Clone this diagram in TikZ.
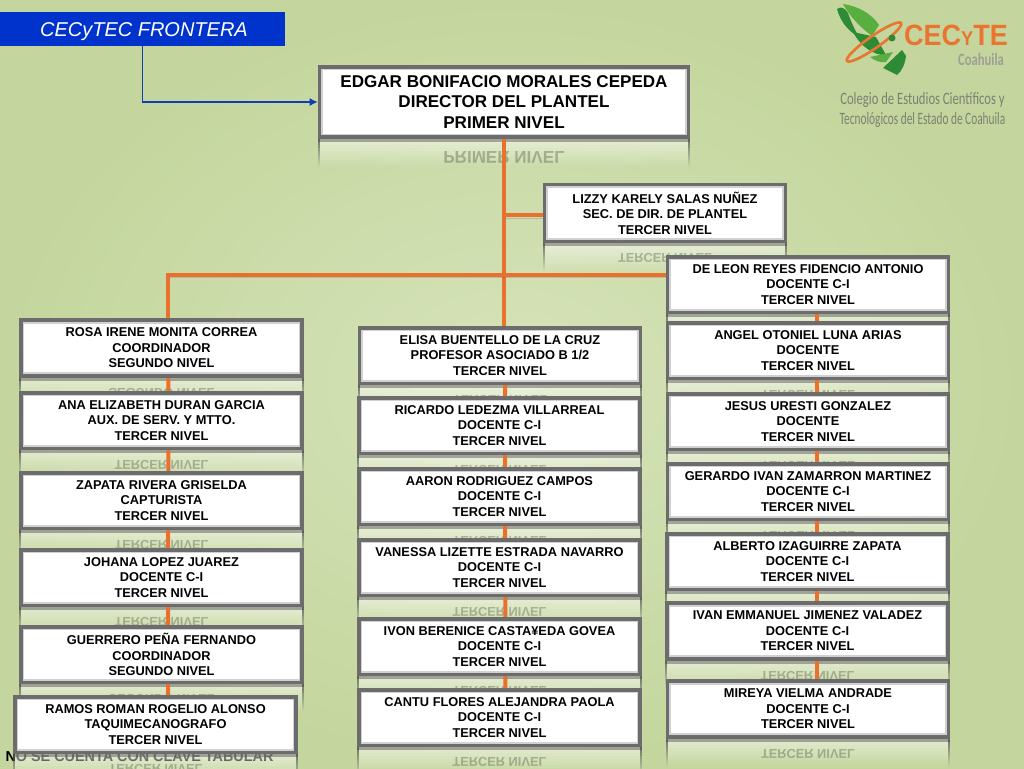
\documentclass[tikz,border=0pt]{standalone}
\usepackage{fontspec}
\setmainfont{Liberation Sans}
\newfontfamily\logofont[FakeStretch=0.73]{Carlito}
\newfontfamily\logotight[FakeStretch=0.655]{Carlito}
\newfontfamily\logobold[FakeStretch=0.92]{Liberation Sans}
\usetikzlibrary{positioning, calc, backgrounds, arrows.meta}
\definecolor{bgout}{HTML}{C4D69D}
\definecolor{bgin}{HTML}{D6E3BA}
\definecolor{linkorange}{HTML}{E9702D}
\definecolor{boxedge}{HTML}{6C6C6C}
\definecolor{titleblue}{HTML}{0033CC}
\definecolor{arrowblue}{HTML}{0F3FB8}
\definecolor{logoorange}{HTML}{EA7530}
\definecolor{logogray}{HTML}{7C8072}
\definecolor{leafdark}{HTML}{2E8B35}
\definecolor{leaflight}{HTML}{58AE3E}

\begin{document}
\begin{tikzpicture}[x=0.75pt, y=-0.75pt]
    \tikzstyle{box} = [draw=boxedge, line width=2.7pt, fill=white, minimum width=210.7pt, minimum height=41.7pt, inner sep=0pt, align=center, font=\fontsize{9.6}{11.6}\selectfont\bfseries,
        path picture={\draw[line width=5pt, black!18] (path picture bounding box.south west) rectangle (path picture bounding box.north east);}]
    \tikzstyle{bigbox} = [box, minimum width=276.7pt, minimum height=52.7pt, font=\fontsize{12.8}{15.4}\selectfont\bfseries]
    \tikzstyle{link} = [line width=3pt, draw=linkorange, preaction={draw=black!60, opacity=.25, transform canvas={yshift=-2pt}}]
    \tikzstyle{mirrorlabel} = [yscale=-1, transform shape, text opacity=.24, inner sep=0pt, font=\fontsize{9.6}{11.6}\selectfont\bfseries]

    \path[use as bounding box] (0,0) rectangle (1024,768);

    \node[box, minimum width=180.7pt, minimum height=42.7pt] (lizzy) at (665,213) {LIZZY KARELY SALAS NUÑEZ\\SEC. DE DIR. DE PLANTEL\\TERCER NIVEL};
    \node[bigbox] (director) at (504,102) {EDGAR BONIFACIO MORALES CEPEDA\\DIRECTOR DEL PLANTEL\\PRIMER NIVEL};

    \node[box] (rosa) at (161.5,348) {ROSA IRENE MONITA CORREA\\COORDINADOR\\SEGUNDO NIVEL};
    \node[box] (ana) at (161.5,420.5) {ANA ELIZABETH DURAN GARCIA\\AUX. DE SERV. Y MTTO.\\TERCER NIVEL};
    \node[box] (zapata) at (161.5,500.5) {ZAPATA RIVERA GRISELDA\\CAPTURISTA\\TERCER NIVEL};
    \node[box] (johana) at (161.5,577.5) {JOHANA LOPEZ JUAREZ\\DOCENTE C-I\\TERCER NIVEL};
    \node[box] (guerrero) at (161.5,654.5) {GUERRERO PEÑA FERNANDO\\COORDINADOR\\SEGUNDO NIVEL};
    \node[box] (ramos) at (155.5,724.5) {RAMOS ROMAN ROGELIO ALONSO\\TAQUIMECANOGRAFO\\TERCER NIVEL};

    \node[box] (elisa) at (500,355.5) {ELISA BUENTELLO DE LA CRUZ\\PROFESOR ASOCIADO B 1/2\\TERCER NIVEL};
    \node[box] (ricardo) at (499.5,425.5) {RICARDO LEDEZMA VILLARREAL\\DOCENTE C-I\\TERCER NIVEL};
    \node[box] (aaron) at (499.5,496.5) {AARON RODRIGUEZ CAMPOS\\DOCENTE C-I\\TERCER NIVEL};
    \node[box] (vanessa) at (499.5,567.5) {VANESSA LIZETTE ESTRADA NAVARRO\\DOCENTE C-I\\TERCER NIVEL};
    \node[box] (ivon) at (499.5,646.5) {IVON BERENICE CASTA¥EDA GOVEA\\DOCENTE C-I\\TERCER NIVEL};
    \node[box] (cantu) at (499.5,717.5) {CANTU FLORES ALEJANDRA PAOLA\\DOCENTE C-I\\TERCER NIVEL};

    \node[box] (deleon) at (808,284.5) {DE LEON REYES FIDENCIO ANTONIO\\DOCENTE C-I\\TERCER NIVEL};
    \node[box] (angel) at (808,350.5) {ANGEL OTONIEL LUNA ARIAS\\DOCENTE\\TERCER NIVEL};
    \node[box] (jesus) at (808,421.5) {JESUS URESTI GONZALEZ\\DOCENTE\\TERCER NIVEL};
    \node[box] (gerardo) at (808,491.5) {GERARDO IVAN ZAMARRON MARTINEZ\\DOCENTE C-I\\TERCER NIVEL};
    \node[box] (alberto) at (807.5,561.5) {ALBERTO IZAGUIRRE ZAPATA\\DOCENTE C-I\\TERCER NIVEL};
    \node[box] (ivan) at (807.5,631) {IVAN EMMANUEL JIMENEZ VALADEZ\\DOCENTE C-I\\TERCER NIVEL};
    \node[box] (mireya) at (808,709) {MIREYA VIELMA ANDRADE\\DOCENTE C-I\\TERCER NIVEL};

    \node[fill=titleblue, text=white, minimum width=213.75pt, minimum height=25.5pt, inner sep=0pt, text height=12pt, text depth=1.3pt, font=\fontsize{15}{18}\selectfont\itshape] (title) at (142.5,29) {\hspace*{2.2pt}CECyTEC FRONTERA};
    \draw[-{Latex[length=6pt, width=6pt]}, arrowblue, line width=1.1pt] (title.south) |- (director.west);

    \begin{scope}[on background layer]
        \shade[inner color=bgin, outer color=bgout] (0,0) rectangle (1024,768);

        \node[inner sep=0pt, font=\fontsize{10.8}{12}\selectfont\bfseries] (note) at (139.5,757) {NO SE CUENTA CON CLAVE TABULAR};

        \foreach \n in {lizzy, rosa, ana, zapata, johana, guerrero, ramos, elisa, ricardo, aaron, vanessa, ivon, cantu, deleon, angel, jesus, gerardo, alberto, ivan, mireya, director} {
            \foreach \k [evaluate=\k as \o using .5*(1-\k/9)] in {0,...,8} {
                \fill[white, opacity=\o] ($(\n.south west)+(0,3*\k)$) rectangle ($(\n.south east)+(0,3*\k+3)$);
                \fill[black, opacity=\o] ($(\n.south west)+(0,3*\k)$) rectangle ++(2,3);
                \fill[black, opacity=\o] ($(\n.south east)+(0,3*\k)$) rectangle ++(-2,3);
            }
            \fill[black!70, opacity=.45] (\n.south west) rectangle ($(\n.south east)+(0,3)$);
        }
        \foreach \n/\t in {lizzy/TERCER NIVEL, rosa/SEGUNDO NIVEL, ana/TERCER NIVEL, zapata/TERCER NIVEL, johana/TERCER NIVEL, guerrero/SEGUNDO NIVEL, ramos/TERCER NIVEL, elisa/TERCER NIVEL, ricardo/TERCER NIVEL, aaron/TERCER NIVEL, vanessa/TERCER NIVEL, ivon/TERCER NIVEL, cantu/TERCER NIVEL, deleon/TERCER NIVEL, angel/TERCER NIVEL, jesus/TERCER NIVEL, gerardo/TERCER NIVEL, alberto/TERCER NIVEL, ivan/TERCER NIVEL, mireya/TERCER NIVEL}
            \node[mirrorlabel] (\n-mirror) at ($(\n.south)+(0,15)$) {\t};
        \node[mirrorlabel, font=\fontsize{12.8}{15.4}\selectfont\bfseries] (director-mirror) at ($(director.south)+(0,18)$) {PRIMER NIVEL};

        \draw[link] (director.south) -- (director.south |- elisa.north);
        \draw[link] (director.south |- lizzy.181) -- (lizzy.181);
        \draw[link] (deleon.176.6) -| (rosa.77);
        \draw[link] (rosa.-77) -- (ramos.67);
        \draw[link] (elisa.-80) -- (cantu.79);
        \draw[link] (deleon.-73) -- (mireya.73);
    \end{scope}

    \fill[leafdark] (837,9) .. controls (841,6) and (845,8) .. (848,13) .. controls (851,22) and (855,30) .. (859,37) .. controls (851,33) and (841,24) .. (837,9) -- cycle;
    \fill[leaflight] (843,4) .. controls (858,6) and (872,14) .. (879,25) -- (872,36) .. controls (864,30) and (852,20) .. (843,4) -- cycle;
    \fill[leafdark] (853,32) -- (876,37) -- (886,55) .. controls (874,56) and (860,46) .. (853,32) -- cycle;
    \fill[leaflight] (870,57) -- (893,52) -- (886,62) .. controls (881,63) and (875,61) .. (870,57) -- cycle;
    \fill[leafdark] (883,68) -- (902,50) -- (906,56) .. controls (905,64) and (902,71) .. (897,75) -- cycle;
    \draw[logoorange, line width=2pt] (874,42) ellipse [x radius=33, y radius=6, rotate=35];
    \fill[leafdark] (892,38) circle (3.5);
    \node[inner sep=0pt, text=logoorange, font=\logobold\fontsize{22}{24}\selectfont\bfseries] (logoname) at (956,35) {CEC{\fontsize{15}{16}\selectfont Y}TE};
    \node[inner sep=0pt, text=logogray!75, font=\logofont\fontsize{13}{15}\selectfont\bfseries] (logostate) at (981,59) {Coahuila};
    \node[inner sep=0pt, text=logogray, align=center, font=\fontsize{13}{15}\selectfont] (logotext) at (922.5,110) {{\logofont Colegio de Estudios Científicos y}\\{\logotight Tecnológicos del Estado de Coahuila}};
\end{tikzpicture}
\end{document}
